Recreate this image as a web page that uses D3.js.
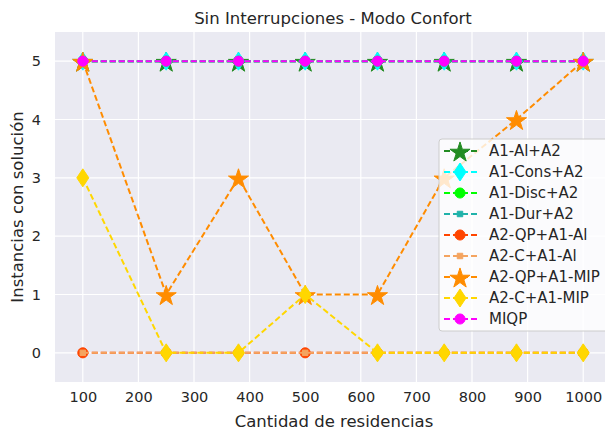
<!DOCTYPE html>
<html>
<head>
<meta charset="utf-8">
<script src="https://cdn.jsdelivr.net/npm/d3@7"></script>
<style>
  body { margin: 0; background: #fff; }
  svg { display: block; font-family: "DejaVu Sans", sans-serif; }
</style>
</head>
<body>
<svg id="chart" width="605" height="431"></svg>
<script>
// data
var residencias = [100, 250, 380, 500, 630, 750, 880, 1000]
var xTicks = [100, 200, 300, 400, 500, 600, 700, 800, 900, 1000]
var yTicks = [0, 1, 2, 3, 4, 5]

var a1AlA2    = [5, 5, 5, 5, 5, 5, 5, 5]
var a1ConsA2  = [5, 5, 5, 5, 5, 5, 5, 5]
var a1DiscA2  = [5, 5, 5, 5, 5, 5, 5, 5]
var a1DurA2   = [5, 5, 5, 5, 5, 5, 5, 5]
var a2QpA1Al  = [0, 0, 0, 0, 0, 0, 0, 0]
var a2CA1Al   = [0, 0, 0, 0, 0, 0, 0, 0]
var a2QpA1Mip = [5, 1, 3, 1, 1, 3, 4, 5]
var a2CA1Mip  = [3, 0, 0, 1, 0, 0, 0, 0]
var miqp      = [5, 5, 5, 5, 5, 5, 5, 5]

var series = [
  { name: "A1-Al+A2",     values: a1AlA2,    color: "#228B22", marker: "star" },
  { name: "A1-Cons+A2",   values: a1ConsA2,  color: "#00FFFF", marker: "diamond" },
  { name: "A1-Disc+A2",   values: a1DiscA2,  color: "#00FF00", marker: "circle" },
  { name: "A1-Dur+A2",    values: a1DurA2,   color: "#20B2AA", marker: "square" },
  { name: "A2-QP+A1-Al",  values: a2QpA1Al,  color: "#FF4500", marker: "circle" },
  { name: "A2-C+A1-Al",   values: a2CA1Al,   color: "#F4A460", marker: "square" },
  { name: "A2-QP+A1-MIP", values: a2QpA1Mip, color: "#FF8C00", marker: "star" },
  { name: "A2-C+A1-MIP",  values: a2CA1Mip,  color: "#FFD700", marker: "diamond" },
  { name: "MIQP",         values: miqp,      color: "#FF00FF", marker: "circle" }
]

var svg = d3.select("#chart")
var plot = { left: 55, top: 32, right: 611, bottom: 382 }

var x = d3.scaleLinear().domain([50, 1050]).range([plot.left, plot.right])
var y = d3.scaleLinear().domain([-0.5, 5.5]).range([plot.bottom, plot.top])

svg.append("rect")
  .attr("x", plot.left).attr("y", plot.top)
  .attr("width", plot.right - plot.left).attr("height", plot.bottom - plot.top)
  .attr("fill", "#EAEAF2")

// grid
svg.append("g").selectAll("line").data(xTicks).enter().append("line")
  .attr("x1", d => x(d)).attr("x2", d => x(d))
  .attr("y1", plot.top).attr("y2", plot.bottom)
  .attr("stroke", "#fff").attr("stroke-width", 1.2)
svg.append("g").selectAll("line").data(yTicks).enter().append("line")
  .attr("x1", plot.left).attr("x2", plot.right)
  .attr("y1", d => y(d)).attr("y2", d => y(d))
  .attr("stroke", "#fff").attr("stroke-width", 1.2)

// axes (labels only, seaborn style)
var xAxis = svg.append("g")
  .attr("transform", "translate(0," + plot.bottom + ")")
  .call(d3.axisBottom(x).tickValues(xTicks).tickFormat(d3.format("d")).tickSize(0).tickPadding(10))
var yAxis = svg.append("g")
  .attr("transform", "translate(" + plot.left + ",0)")
  .call(d3.axisLeft(y).tickValues(yTicks).tickFormat(d3.format("d")).tickSize(0).tickPadding(14))
;[xAxis, yAxis].forEach(function(a) {
  a.select(".domain").remove()
  a.selectAll("text").attr("fill", "#262626").style("font-size", "14.5px")
    .style("font-family", "DejaVu Sans, sans-serif")
})

svg.append("text")
  .attr("x", 334).attr("y", 427)
  .attr("text-anchor", "middle").attr("fill", "#262626")
  .style("font-size", "16.5px")
  .text("Cantidad de residencias")

svg.append("text")
  .attr("transform", "translate(23," + ((plot.top + plot.bottom) / 2) + ") rotate(-90)")
  .attr("text-anchor", "middle").attr("fill", "#262626")
  .style("font-size", "16.5px")
  .text("Instancias con solución")

svg.append("text")
  .attr("x", 333).attr("y", 24)
  .attr("text-anchor", "middle").attr("fill", "#262626")
  .style("font-size", "16.5px")
  .text("Sin Interrupciones - Modo Confort")

function markerPath(type) {
  if (type === "star") return d3.symbol().type(d3.symbolStar).size(125)()
  if (type === "circle") return d3.symbol().type(d3.symbolCircle).size(80)()
  if (type === "square") return d3.symbol().type(d3.symbolSquare).size(30)()
  // thin diamond
  return "M0,-9L6,0L0,9L-6,0Z"
}

svg.append("clipPath").attr("id", "clip").append("rect")
  .attr("x", plot.left).attr("y", plot.top)
  .attr("width", plot.right - plot.left).attr("height", plot.bottom - plot.top)

var line = d3.line().x(d => x(d[0])).y(d => y(d[1]))
var marks = svg.append("g").attr("clip-path", "url(#clip)")

series.forEach(function(s) {
  var pts = residencias.map((r, i) => [r, s.values[i]])
  var g = marks.append("g")
  g.append("path")
    .attr("d", line(pts))
    .attr("fill", "none")
    .attr("stroke", s.color)
    .attr("stroke-width", 2)
    .attr("stroke-dasharray", "6,3")
  g.selectAll("path.m").data(pts).enter().append("path")
    .attr("class", "m")
    .attr("transform", d => "translate(" + x(d[0]) + "," + (y(d[1]) + (s.marker === "star" ? 1.5 : 0)) + ")")
    .attr("d", markerPath(s.marker))
    .attr("fill", s.color)
    .attr("stroke", s.color)
    .attr("stroke-width", 1)
})

// legend
var legend = svg.append("g").attr("transform", "translate(439,139)")
legend.append("rect")
  .attr("width", 175).attr("height", 192)
  .attr("rx", 3)
  .attr("fill", "#fff").attr("fill-opacity", 0.8)
  .attr("stroke", "#ccc")

series.forEach(function(s, i) {
  var row = legend.append("g").attr("transform", "translate(0," + (12 + i * 21) + ")")
  row.append("line")
    .attr("x1", 5).attr("x2", 38)
    .attr("stroke", s.color).attr("stroke-width", 2)
    .attr("stroke-dasharray", "6,3")
  row.append("path")
    .attr("transform", "translate(21," + (s.marker === "star" ? 1.5 : 0) + ")")
    .attr("d", markerPath(s.marker))
    .attr("fill", s.color).attr("stroke", s.color)
  row.append("text")
    .attr("x", 50).attr("dy", "0.35em")
    .attr("fill", "#262626")
    .style("font-size", "15px")
    .text(s.name)
})
</script>
</body>
</html>
